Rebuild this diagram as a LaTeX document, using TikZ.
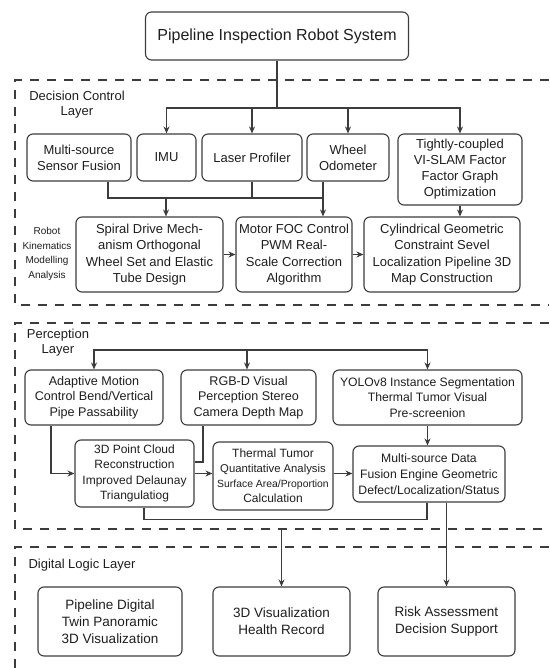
\documentclass[tikz,border=0pt]{standalone}
\usepackage{fontspec}
\setmainfont{Liberation Sans}
\usetikzlibrary{arrows.meta,positioning}
\definecolor{trait}{HTML}{3C3C3C}
\definecolor{texte}{HTML}{1E1E1E}

\begin{document}
\begin{tikzpicture}[
        x=1pt, y=-1pt,
        main/.style = {draw=trait, line width=1.1pt, rounded corners=6pt, align=center,
                       text=texte, inner sep=2pt, font=\fontsize{13}{16}\selectfont},
        lbl/.style = {align=center, text=texte, font=\fontsize{13}{15}\selectfont},
        layer/.style = {draw=trait, line width=1.1pt, dash pattern=on 9pt off 8pt},
        lien/.style = {draw=trait, line width=1.2pt},
        arr/.style = {lien, -{Stealth[length=7pt,width=6pt]}}
    ]
        \useasboundingbox (0,0) rectangle (549,668);

        % Cadres des couches
        \draw[layer] (549,80) -- (15,80) -- (15,305) -- (549,305);
        \draw[layer] (549,323) -- (15,323) -- (15,529) -- (549,529);
        \draw[layer] (549,547) -- (15,547) -- (15,668);

        % Titres des couches
        \node[lbl] (ldec) at (77,105) {Decision Control\\Layer};
        \node[lbl] (lper) at (58,343) {Perception\\Layer};
        \node[lbl, anchor=west] (ldig) at (25,565) {Digital Logic Layer};
        \node[lbl, font=\fontsize{10}{14.5}\selectfont] (kin) at (47,254)
            {Robot\\Kinematics\\Modelling\\Analysis};

        % Système
        \node[main, minimum width=263pt, minimum height=48pt, font=\fontsize{16}{18}\selectfont]
            (sys) at (277,36) {Pipeline Inspection Robot System};

        % Couche décision
        \node[main, minimum width=104pt, minimum height=47pt] (fus) at (79,157.5) {Multi-source\\Sensor Fusion};
        \node[main, minimum width=59pt, minimum height=47pt] (imu) at (166.5,157.5) {IMU};
        \node[main, minimum width=100pt, minimum height=47pt] (laser) at (252,157.5) {Laser Profiler};
        \node[main, minimum width=82pt, minimum height=47pt] (odo) at (348,157.5) {Wheel\\Odometer};
        \node[main, minimum width=124pt, minimum height=71pt] (slam) at (460,169.5)
            {Tightly-coupled\\VI-SLAM Factor\\Factor Graph\\Optimization};
        \node[main, minimum width=147pt, minimum height=75pt, font=\fontsize{13}{16.5}\selectfont]
            (spiral) at (149.5,254.5) {Spiral Drive Mech-\\anism Orthogonal\\Wheel Set and Elastic\\Tube Design};
        \node[main, minimum width=116pt, minimum height=75pt, font=\fontsize{13}{16.5}\selectfont]
            (foc) at (294,254.5) {Motor FOC Control\\PWM Real-\\Scale Correction\\Algorithm};
        \node[main, minimum width=156pt, minimum height=75pt, font=\fontsize{13}{16.5}\selectfont]
            (cyl) at (442,254.5) {Cylindrical Geometric\\Constraint Sevel\\Localization Pipeline 3D\\Map Construction};

        % Couche perception
        \node[main, minimum width=138pt, minimum height=55pt, font=\fontsize{12.6}{15.5}\selectfont]
            (adapt) at (94,397.5) {Adaptive Motion\\Control Bend/Vertical\\Pipe Passability};
        \node[main, minimum width=135pt, minimum height=55pt, font=\fontsize{12.6}{15.5}\selectfont]
            (rgbd) at (248.5,397.5) {RGB-D Visual\\Perception Stereo\\Camera Depth Map};
        \node[main, minimum width=189pt, minimum height=55pt, font=\fontsize{12.2}{15.5}\selectfont]
            (yolo) at (427.5,397.5) {YOLOv8 Instance Segmentation\\Thermal Tumor Visual\\Pre-screenion};
        \node[main, minimum width=119pt, minimum height=67pt, font=\fontsize{12}{15.3}\selectfont]
            (cloud) at (134.5,473.5) {3D Point Cloud\\Reconstruction\\Improved Delaunay\\Triangulatiog};
        \node[main, minimum width=120pt, minimum height=68pt, font=\fontsize{12}{15}\selectfont]
            (tumor) at (273,476) {Thermal Tumor\\{\fontsize{11.3}{15}\selectfont Quantitative Analysis}\\
            {\fontsize{10.4}{15}\selectfont Surface Area/Proportion}\\Calculation};
        \node[main, minimum width=152pt, minimum height=56pt, font=\fontsize{12.2}{15.8}\selectfont]
            (mfus) at (429,474) {Multi-source Data\\Fusion Engine Geometric\\Defect/Localization/Status};

        % Couche logique numérique
        \node[main, minimum width=144pt, minimum height=69pt, font=\fontsize{13.5}{17}\selectfont]
            (twin) at (110,621.5) {Pipeline Digital\\Twin Panoramic\\3D Visualization};
        \node[main, minimum width=137pt, minimum height=69pt, font=\fontsize{13.5}{17}\selectfont]
            (viz) at (281.5,621.5) {3D Visualization\\Health Record};
        \node[main, minimum width=137pt, minimum height=69pt, font=\fontsize{13.5}{17}\selectfont]
            (risk) at (446.5,621.5) {Risk Assessment\\Decision Support};

        % Points de jonction
        \coordinate (dbar) at (277,108);
        \coordinate (dm) at (252,198);
        \coordinate (pbar) at (247,350);
        \coordinate (vin) at (281.5,529);

        % Liaisons de la couche décision
        \draw[lien] (sys.south) -- (dbar);
        \draw[arr] (dbar) -| (imu.north);
        \draw[arr] (dbar) -| (laser.north);
        \draw[arr] (dbar) -| (odo.north);
        \draw[arr] (dbar) -| (slam.north);
        \draw[lien] ([xshift=29pt]fus.south) |- (dm);
        \draw[lien] (laser.south) -- (dm);
        \draw[lien] (dm) -| ([xshift=-25pt]odo.south);
        \draw[arr] ([xshift=-25pt]odo.south) -- ([xshift=29pt]foc.north);
        \draw[arr] ([xshift=16.5pt]spiral.north |- dm) -- ([xshift=16.5pt]spiral.north);
        \draw[arr] (slam.south) -- (slam.south |- cyl.north);
        \draw[arr] (spiral.east) -- (foc.west);
        \draw[arr] (foc.east) -- (cyl.west);

        % Liaisons de la couche perception
        \draw[arr] (pbar) -| (adapt.north);
        \draw[arr] (pbar) -- (rgbd.north -| pbar);
        \draw[arr] (pbar) -| (yolo.north);
        \draw[arr] ([xshift=-43pt]adapt.south) |- (cloud.west);
        \draw[lien] ([xshift=-45.5pt]rgbd.south) |- ([yshift=11.5pt]cloud.east);
        \draw[arr] (yolo.south) -- (yolo.south |- mfus.north);
        \draw[arr] (cloud.east) -- (cloud.east -| tumor.west);
        \draw[arr] (tumor.east |- cloud.east) -- (cloud.east -| mfus.west);
        \draw[lien] ([xshift=9.5pt]cloud.south) -- ++(0,12) -| ([xshift=-2pt]mfus.south);

        % Vers la couche logique numérique
        \draw[arr] (vin) -- (viz.north);
        \draw[arr] (risk.north |- mfus.south) -- (risk.north);

    \end{tikzpicture}
\end{document}
